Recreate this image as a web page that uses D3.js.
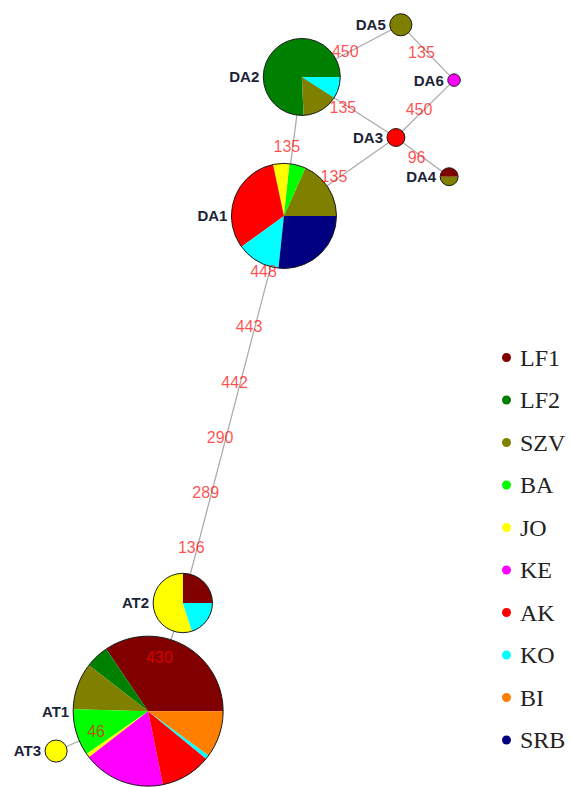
<!DOCTYPE html>
<html>
<head>
<meta charset="utf-8">
<script src="https://cdn.jsdelivr.net/npm/d3@7/dist/d3.min.js"></script>
<style>
  html, body { margin: 0; padding: 0; background: #ffffff; }
  svg { display: block; }
</style>
</head>
<body>
<script>
// Populations (legend order) and their colours
const populations = ["LF1", "LF2", "SZV", "BA", "JO", "KE", "AK", "KO", "BI", "SRB"];
const popColors = ["#800000", "#008000", "#808000", "#00ff00", "#ffff00",
                   "#ff00ff", "#ff0000", "#00ffff", "#ff8000", "#000080"];

// Haplotypes and their counts per population (same order as populations)
const haplotypes = ["DA1", "DA2", "DA3", "DA4", "DA5", "DA6", "AT1", "AT2", "AT3"];
const haploFreq = [
  [0, 0, 11, 3, 3, 0, 19, 8, 0, 16],   // DA1
  [0, 25, 5, 0, 0, 0, 0, 3, 0, 0],     // DA2
  [0, 0, 0, 0, 0, 0, 2, 0, 0, 0],      // DA3
  [1, 0, 1, 0, 0, 0, 0, 0, 0, 0],      // DA4
  [0, 0, 3, 0, 0, 0, 0, 0, 0, 0],      // DA5
  [0, 0, 0, 0, 0, 1, 0, 0, 0, 0],      // DA6
  [41, 6, 12, 12, 1, 21, 13, 1, 12, 0],// AT1
  [5, 0, 0, 0, 11, 0, 0, 4, 0, 0],     // AT2
  [0, 0, 0, 0, 3, 0, 0, 0, 0, 0]       // AT3
];

// Network layout coordinates (plot units, y pointing up)
const layoutX = [6.97, 7.48, 10.17, 11.69, 10.31, 11.83, 3.09, 4.08, 0.46];
const layoutY = [15.26, 19.23, 17.50, 16.38, 20.72, 19.14, 1.11, 4.20, -0.03];

// Links between haplotypes with the mutated sites along each link
const linkFrom = ["DA2", "DA5", "DA6", "DA2", "DA3", "DA2", "DA1", "DA1", "AT2", "AT1"];
const linkTo   = ["DA5", "DA6", "DA3", "DA3", "DA4", "DA1", "DA3", "AT2", "AT1", "AT3"];
const linkSites = [
  ["450"], ["135"], ["450"], ["135"], ["96"], ["135"], ["135"],
  ["448", "443", "442", "290", "289", "136"],
  ["430"], ["46"]
];

const W = 571, H = 787;
const svg = d3.select("body").append("svg")
  .attr("width", W).attr("height", H)
  .style("background", "#ffffff");

// Plot-unit to pixel scales (equal aspect)
const x = d3.scaleLinear().domain([0, 12]).range([40, 460]);
const y = d3.scaleLinear().domain([0, 20]).range([750, 50]);

// Circle radius grows with haplotype frequency
const totals = haploFreq.map(r => d3.sum(r));
const rScale = d3.scalePow().exponent(0.52).domain([0, d3.max(totals)]).range([0, 75]);

const nodes = haplotypes.map((h, i) => ({
  id: h,
  cx: x(layoutX[i]),
  cy: y(layoutY[i]),
  r: rScale(totals[i]),
  freq: haploFreq[i]
}));
const byId = new Map(nodes.map(n => [n.id, n]));

const links = linkFrom.map((f, i) => ({
  a: byId.get(f), b: byId.get(linkTo[i]), sites: linkSites[i]
}));

// Links
svg.append("g").selectAll("line")
  .data(links).join("line")
  .attr("x1", d => d.a.cx).attr("y1", d => d.a.cy)
  .attr("x2", d => d.b.cx).attr("y2", d => d.b.cy)
  .attr("stroke", "#a8a8a8")
  .attr("stroke-width", 1.2);

// Pies: first slice starts at 3 o'clock and runs counter-clockwise
const pie = d3.pie().sort(null).value(d => d.v)
  .startAngle(Math.PI / 2).endAngle(Math.PI / 2 - 2 * Math.PI);
const arc = d3.arc().innerRadius(0);

const nodeG = svg.append("g").selectAll("g")
  .data(nodes).join("g")
  .attr("transform", d => `translate(${d.cx},${d.cy})`);

nodeG.each(function (n) {
  const g = d3.select(this);
  const slices = pie(n.freq.map((v, i) => ({ v, c: popColors[i] })).filter(s => s.v > 0));
  g.selectAll("path").data(slices).join("path")
    .attr("d", s => arc.outerRadius(n.r)(s))
    .attr("fill", s => s.data.c);
  g.append("circle")
    .attr("r", n.r)
    .attr("fill", "none")
    .attr("stroke", "#1a1a1a")
    .attr("stroke-width", 1);
});

// Haplotype names
svg.append("g").selectAll("text")
  .data(nodes).join("text")
  .attr("x", d => d.cx - d.r - 4)
  .attr("y", d => d.cy)
  .attr("dy", "0.36em")
  .attr("text-anchor", "end")
  .attr("font-family", "Liberation Sans, Arial, sans-serif")
  .attr("font-weight", "bold")
  .attr("font-size", 15)
  .attr("fill", "#1c2438")
  .text(d => d.id);

// Mutation labels, spaced evenly along each link
const siteLabels = [];
links.forEach(l => {
  const n = l.sites.length;
  l.sites.forEach((s, k) => {
    const t = (k + 1) / (n + 1);
    siteLabels.push({
      text: s,
      px: l.a.cx + (l.b.cx - l.a.cx) * t,
      py: l.a.cy + (l.b.cy - l.a.cy) * t
    });
  });
});
svg.append("g").selectAll("text")
  .data(siteLabels).join("text")
  .attr("x", d => d.px - 6)
  .attr("y", d => d.py)
  .attr("dy", "0.36em")
  .attr("text-anchor", "middle")
  .attr("font-family", "Liberation Sans, Arial, sans-serif")
  .attr("font-size", 16)
  .attr("fill", "#ff0000")
  .attr("fill-opacity", 0.7)
  .text(d => d.text);

// Legend
const ly = d3.scalePoint().domain(populations).range([357.5, 740]);
const legend = svg.append("g").selectAll("g")
  .data(populations).join("g")
  .attr("transform", d => `translate(506.5,${ly(d)})`);
legend.append("circle")
  .attr("r", 4.5)
  .attr("fill", (d, i) => popColors[i]);
legend.append("text")
  .attr("x", 13.5)
  .attr("dy", "0.35em")
  .attr("font-family", "Liberation Serif, Times New Roman, serif")
  .attr("font-size", 24)
  .attr("fill", "#222222")
  .text(d => d);
</script>
</body>
</html>
